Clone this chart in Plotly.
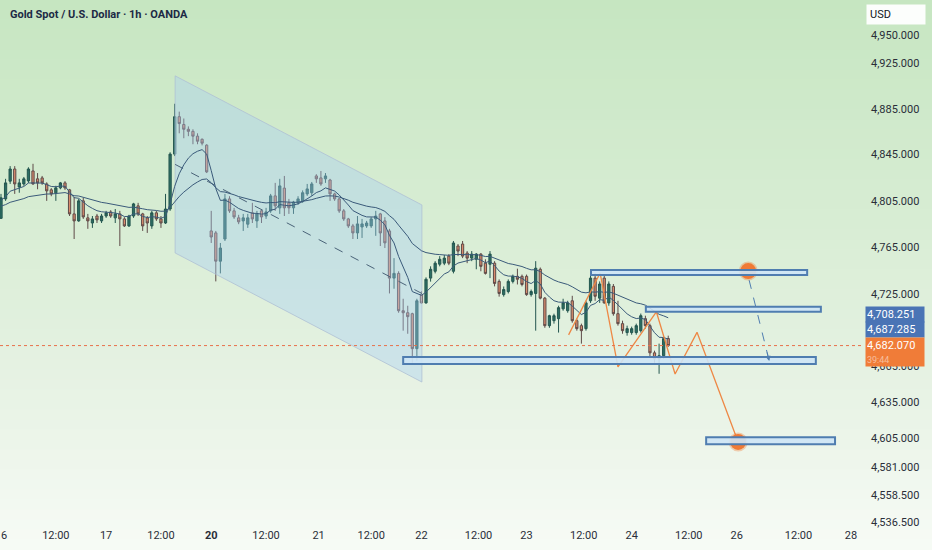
import math
import plotly.graph_objects as go

TITLE = "Gold Spot / U.S. Dollar · 1h · OANDA"

OPEN = [4790, 4806.7, 4822, 4832.5, 4817, 4819.6, 4822.2, 4830.8, 4824, 4824.8,
        4819.6, 4814.5, 4811.9, 4816.2, 4820.5, 4814.5, 4793.8, 4787.8, 4805, 4790.4,
        4786, 4792, 4787.8, 4792, 4795.5, 4790.4, 4793.8, 4789.5, 4783.5, 4792,
        4800.7, 4793.8, 4790.4, 4783.5, 4794.7, 4789.5, 4786, 4798, 4845.4, 4878,
        4871.2, 4867, 4865.2, 4861, 4858.3, 4853.2, 4779.2, 4777.5, 4753.4, 4772.3,
        4806.7, 4796.4, 4790.4, 4787.8, 4785, 4794.7, 4787.8, 4796.4, 4792, 4796.4,
        4809.3, 4799, 4816, 4803.3, 4799, 4803.3, 4805, 4811, 4812, 4826.5,
        4824.8, 4824, 4823, 4811, 4806.7, 4796.4, 4789.5, 4783.5, 4777.5, 4782.6,
        4783.5, 4783.5, 4789.5, 4793.8, 4787.8, 4779.2, 4739, 4743, 4711.4, 4709.7,
        4708.9, 4679.5, 4725, 4718, 4739, 4744.8, 4750.8, 4751.7, 4757.7, 4744.8,
        4766.3, 4768, 4760.3, 4756, 4755, 4759.4, 4751.7, 4750.8, 4751.7, 4736.2,
        4725, 4727.6, 4736.2, 4740.5, 4740.5, 4740.5, 4725, 4726, 4746.5, 4722,
        4698.8, 4703, 4704.7, 4713, 4711.4, 4719.8, 4703, 4698.8, 4696.3, 4719.8,
        4739, 4722, 4739, 4718, 4732, 4708.9, 4700.5, 4693, 4693, 4693,
        4694.6, 4704.7, 4698.8, 4676, 4671, 4673.6, 4688]
HIGH = [4811, 4824, 4835, 4835, 4824, 4825.6, 4834, 4837, 4829, 4826.5,
        4821, 4816, 4818, 4821.3, 4822, 4815.3, 4808.4, 4806.7, 4807.6, 4793.8,
        4792, 4793.8, 4793.8, 4796.4, 4797, 4798, 4796.4, 4791, 4793, 4803.3,
        4803.3, 4794.7, 4792, 4796.4, 4796.4, 4792, 4811, 4847, 4889.3, 4882.4,
        4876.4, 4869.5, 4867, 4863.5, 4859, 4854, 4796.4, 4779.2, 4768.9, 4811,
        4809, 4799, 4793, 4793.8, 4793.8, 4803.3, 4796.4, 4798, 4799, 4811,
        4820.5, 4824, 4826.5, 4806.7, 4805, 4809, 4814, 4819.6, 4821.3, 4828,
        4830.8, 4829, 4824, 4812, 4807.6, 4798, 4790.4, 4785.2, 4792, 4789.5,
        4787.8, 4791, 4796.4, 4794.7, 4791, 4781, 4756, 4744.8, 4721.5, 4715.6,
        4709.7, 4721.5, 4728, 4739.6, 4749, 4753.4, 4757.7, 4758.6, 4759.4, 4770.6,
        4768, 4770.6, 4762, 4762, 4760.3, 4760.3, 4755, 4762, 4753.4, 4737.9,
        4731.9, 4737.9, 4742, 4747, 4742, 4742, 4729.3, 4753.4, 4748, 4723,
        4708, 4708.9, 4715.6, 4721.5, 4719.8, 4724, 4704.7, 4700.5, 4719.8, 4744.8,
        4743, 4736.2, 4742, 4736.2, 4734, 4719.8, 4703, 4698.8, 4698, 4700.5,
        4709, 4707.2, 4700.5, 4677.8, 4683.7, 4689.6, 4690.4]
LOW = [4789.5, 4805, 4819.6, 4811, 4812, 4818, 4820.5, 4818.8, 4815, 4818.8,
       4805, 4809, 4805, 4815, 4814.5, 4792, 4772.3, 4787, 4789.5, 4781,
       4781.8, 4786, 4786, 4790.4, 4790.4, 4786, 4766.3, 4782.6, 4782.6, 4790.4,
       4792, 4779.2, 4777.5, 4781, 4787.8, 4781.8, 4785.2, 4796.4, 4843.7, 4863.5,
       4859.2, 4861, 4854, 4854, 4853, 4829, 4768.9, 4736.2, 4743, 4770.6,
       4794.7, 4789.5, 4785, 4779.2, 4781.8, 4786, 4781.8, 4786, 4789.5, 4794.7,
       4796.4, 4793.8, 4792, 4793.8, 4793.8, 4801.5, 4803.3, 4809.3, 4809.3, 4820.5,
       4818, 4820.5, 4805, 4805, 4794.7, 4787.8, 4781.8, 4772.3, 4772.3, 4773.2,
       4781.8, 4781.8, 4775, 4766.3, 4764.6, 4726, 4730, 4709.7, 4694.6, 4692,
       4667.7, 4669.4, 4717.3, 4717.3, 4736, 4743, 4749, 4750, 4750, 4743,
       4757.7, 4756, 4751.7, 4753.4, 4746.5, 4744.8, 4742, 4739, 4732, 4723.3,
       4723.3, 4726, 4734.5, 4733.6, 4732, 4724, 4723.3, 4694.6, 4721, 4697,
       4697, 4700.5, 4693, 4711.4, 4709.7, 4701.3, 4694.6, 4683.7, 4694.6, 4718,
       4719.8, 4718, 4717.3, 4715.6, 4707.2, 4698.8, 4692, 4690.4, 4691.2, 4691.2,
       4693, 4696.3, 4672, 4667.7, 4658.5, 4671, 4681]
CLOSE = [4807.6, 4820.5, 4832.5, 4819.6, 4820.5, 4824, 4832.5, 4819.6, 4820.5, 4820.5,
         4813.6, 4811, 4816.2, 4820.5, 4816.2, 4793.8, 4787.8, 4805, 4791.2, 4787.8,
         4789.5, 4788.7, 4792, 4794.7, 4792, 4793.8, 4789.5, 4783.5, 4792, 4802.4,
         4793.8, 4783.5, 4786, 4794.7, 4789.5, 4786, 4798, 4845.4, 4878, 4872,
         4867, 4865.2, 4861, 4856.6, 4854.9, 4830, 4774, 4753.4, 4764.6, 4806.7,
         4796.4, 4791.2, 4787, 4790.4, 4790.4, 4789.5, 4793.8, 4791.2, 4795.5, 4809.3,
         4800.7, 4817.9, 4799, 4799, 4804, 4806.7, 4812, 4815.3, 4819.6, 4824,
         4819.6, 4826.5, 4811, 4806.7, 4796.4, 4789.5, 4783.5, 4777.5, 4785.2, 4785.2,
         4786, 4789.5, 4792, 4777.5, 4769, 4739, 4743, 4711.4, 4709.7, 4706.4,
         4679.5, 4719.8, 4718, 4738, 4746.5, 4751.7, 4755, 4756, 4751.7, 4768.9,
         4762, 4757.7, 4756, 4759.4, 4759.4, 4749, 4743, 4759.4, 4734.5, 4726,
         4729.3, 4736.2, 4740.5, 4738, 4733.6, 4725, 4727.6, 4747.4, 4722, 4698.8,
         4707.2, 4707.2, 4714, 4718, 4718, 4703, 4696.3, 4694.6, 4718, 4739,
         4723.6, 4734, 4718, 4734, 4708.9, 4700.5, 4694.6, 4696.3, 4696.3, 4698.8,
         4707.2, 4698.8, 4676, 4671, 4673.6, 4688, 4682.07]

# moving averages (periods and starting values)
FAST_PERIOD, FAST_SEED = 9, 4805
SLOW_PERIOD, SLOW_SEED = 30, 4800

X_TICK_BARS = [0, 12, 23, 35, 46, 58, 69.5, 81, 92, 104.5, 115, 127.5, 138, 150.5, 161, 174.5, 186]
X_TICK_LABELS = ["16", "12:00", "17", "12:00", "<b>20</b>", "12:00", "21", "12:00", "22",
                 "12:00", "23", "12:00", "24", "12:00", "26", "12:00", "28"]
Y_TICKS = [4950, 4925, 4885, 4845, 4805, 4765, 4725, 4665, 4635, 4605, 4581, 4558.5, 4536.5]

# drawings
CHANNEL_X = [38.1, 92.1]
CHANNEL_TOP = [4913.8, 4801.5]
CHANNEL_BOTTOM = [4760.4, 4651.6]
ZONE_X0 = [129.1, 141.1, 88.0, 154.3]
ZONE_X1 = [176.4, 179.4, 178.3, 182.5]
ZONE_LO = [4741.6, 4710.5, 4666.7, 4600.1]
ZONE_HI = [4745.8, 4714.7, 4672.5, 4605.9]
ZIGZAG_X = [124.2, 131.1, 135.0, 143.4, 147.5, 152.3, 161.3]
ZIGZAG_P = [4691.1, 4743.3, 4664.2, 4710.5, 4658.3, 4693.2, 4602]
TARGET_X = [163.5, 161.3]
TARGET_P = [4745, 4602]
ARROW_X = [163.7, 168.1]
ARROW_P = [4737.3, 4669.2]
LAST_PRICE = 4682.07
TAG_VALUES = [4708.251, 4687.285, 4682.070]
TAG_COUNTDOWN = "39:44"

FONT = "Roboto, 'Noto Sans', sans-serif"
W, H = 932, 550
ML, MR, MT, MB = 0, 70, 0, 23
PW, PH = W - ML - MR, H - MT - MB
Y_RANGE = [math.log10(4532.4), math.log10(4981)]
X_RANGE = [-0.22, 188.4]


def ema(vals, period, seed):
    a = 2.0 / (period + 1)
    e = seed
    out = []
    for v in vals:
        e = e + a * (v - e)
        out.append(e)
    return out


X = list(range(len(CLOSE)))
fast = ema(CLOSE, FAST_PERIOD, FAST_SEED)
slow = ema(CLOSE, SLOW_PERIOD, SLOW_SEED)

fig = go.Figure()

# background gradient
stops = [(0, (198, 230, 193)), (200, (214, 236, 210)), (400, (232, 243, 229)), (550, (247, 251, 246))]


def grad(fy):
    for (y0, c0), (y1, c1) in zip(stops[:-1], stops[1:]):
        if y0 <= fy <= y1:
            t = (fy - y0) / (y1 - y0)
            return tuple(round(c0[i] + t * (c1[i] - c0[i])) for i in range(3))
    return stops[-1][1]


shapes = []
NB = 55
for k in range(NB):
    fy0 = k * H / NB
    fy1 = (k + 1) * H / NB
    c = grad((fy0 + fy1) / 2)
    shapes.append(dict(type="rect", xref="paper", yref="paper", layer="below",
                       x0=-0.01, x1=W / PW + 0.01,
                       y0=1 - (fy1 + 0.5) / PH, y1=1 - (fy0 - 0.5) / PH,
                       fillcolor="rgb(%d,%d,%d)" % c, line=dict(width=0)))

# channel
fig.add_trace(go.Scatter(
    x=[CHANNEL_X[0], CHANNEL_X[1], CHANNEL_X[1], CHANNEL_X[0], CHANNEL_X[0]],
    y=[CHANNEL_TOP[0], CHANNEL_TOP[1], CHANNEL_BOTTOM[1], CHANNEL_BOTTOM[0], CHANNEL_TOP[0]],
    mode="lines", fill="toself", fillcolor="rgba(165,205,245,0.38)",
    line=dict(color="rgba(175,192,212,0.8)", width=1), hoverinfo="skip"))
mid = [math.sqrt(t * b) for t, b in zip(CHANNEL_TOP, CHANNEL_BOTTOM)]
fig.add_trace(go.Scatter(x=CHANNEL_X, y=mid, mode="lines",
                         line=dict(color="#4a6378", width=1, dash="dash"), hoverinfo="skip"))

# candles
fig.add_trace(go.Candlestick(
    x=X, open=OPEN, high=HIGH, low=LOW, close=CLOSE, whiskerwidth=0,
    increasing=dict(line=dict(color="#24564f", width=1), fillcolor="#2c6e63"),
    decreasing=dict(line=dict(color="#5e4a48", width=1), fillcolor="#d98b6c"),
    hoverinfo="skip"))

# moving averages
fig.add_trace(go.Scatter(x=X, y=slow, mode="lines", line=dict(color="#3a5a7a", width=1), hoverinfo="skip"))
fig.add_trace(go.Scatter(x=X, y=fast, mode="lines", line=dict(color="#3a5a7a", width=1), hoverinfo="skip"))

# last price line
shapes.append(dict(type="line", xref="paper", yref="y", x0=0, x1=1, y0=LAST_PRICE, y1=LAST_PRICE,
                   line=dict(color="#e8704a", width=1, dash="dot")))

# zones
for x0, x1, lo, hi in zip(ZONE_X0, ZONE_X1, ZONE_LO, ZONE_HI):
    shapes.append(dict(type="rect", xref="x", yref="y", x0=x0, x1=x1, y0=lo, y1=hi,
                       fillcolor="rgba(205,228,246,0.9)", line=dict(color="#4f7db0", width=2)))

# orange zigzag
fig.add_trace(go.Scatter(x=ZIGZAG_X, y=ZIGZAG_P, mode="lines",
                         line=dict(color="#ee8845", width=1.3), hoverinfo="skip"))

# dashed arrow
fig.add_trace(go.Scatter(x=ARROW_X, y=ARROW_P, mode="lines",
                         line=dict(color="#4f7db0", width=1, dash="dash"), hoverinfo="skip"))

# target circles
fig.add_trace(go.Scatter(x=TARGET_X, y=TARGET_P, mode="markers",
                         marker=dict(size=16, color="#f07a35",
                                     line=dict(color="rgba(240,122,53,0.35)", width=3)),
                         hoverinfo="skip"))

annotations = []
annotations.append(dict(x=ARROW_X[1], y=math.log10(ARROW_P[1]), xref="x", yref="y",
                        ax=-2.5, ay=-10, showarrow=True, arrowhead=2, arrowsize=1,
                        arrowwidth=1, arrowcolor="#4f7db0", text=""))

# title
annotations.append(dict(x=8 / PW, y=1 - 14 / PH, xref="paper", yref="paper", xanchor="left",
                        yanchor="middle", showarrow=False, text="<b>" + TITLE + "</b>",
                        font=dict(family=FONT, size=11, color="#1c2a45")))

# USD box
annotations.append(dict(x=1, y=1 - 15 / PH, xref="paper", yref="paper", xanchor="left",
                        yanchor="middle", xshift=4, showarrow=False, text="USD", width=52,
                        align="left", bgcolor="rgba(255,255,255,0.95)", borderpad=3,
                        font=dict(family=FONT, size=11, color="#131722")))

# price tags
tag_pos = [4708.251, 4695.5, 4676.8]
tag_bg = ["#4a74b5", "#4a74b5", "#f07c38"]
for i, (v, p, bg) in enumerate(zip(TAG_VALUES, tag_pos, tag_bg)):
    txt = f"{v:,.3f}"
    if i == 2:
        txt += "<br><span style='font-size:9px;color:rgba(255,255,255,0.5)'>" + TAG_COUNTDOWN + "</span>"
    annotations.append(dict(x=1, y=math.log10(p), xref="paper", yref="y", xanchor="left",
                            yanchor="middle", xshift=3, showarrow=False, text=txt, width=56,
                            align="left", bgcolor=bg, borderpad=1,
                            font=dict(family=FONT, size=11, color="white")))

fig.update_layout(
    width=W, height=H, margin=dict(l=ML, r=MR, t=MT, b=MB, autoexpand=False),
    paper_bgcolor="white", plot_bgcolor="rgba(0,0,0,0)",
    showlegend=False, shapes=shapes, annotations=annotations,
    font=dict(family=FONT, size=11, color="#2a2e39"),
    xaxis=dict(range=X_RANGE, showgrid=False, zeroline=False, showline=False,
               tickvals=X_TICK_BARS, ticktext=X_TICK_LABELS, ticks="", automargin=False,
               rangeslider=dict(visible=False), ticklabeloverflow="allow",
               tickfont=dict(family=FONT, size=11, color="#2a2e39")),
    yaxis=dict(type="log", side="right", range=Y_RANGE, showgrid=False, zeroline=False,
               showline=False, tickvals=Y_TICKS, ticktext=[f"{v:,.3f}" for v in Y_TICKS],
               ticks="", ticklabelstandoff=8, automargin=False,
               tickfont=dict(family=FONT, size=11, color="#2a2e39")),
)

fig.write_html("out.html", config={"displayModeBar": False},
               post_script="document.body.style.margin='0';document.body.style.overflow='hidden';")
